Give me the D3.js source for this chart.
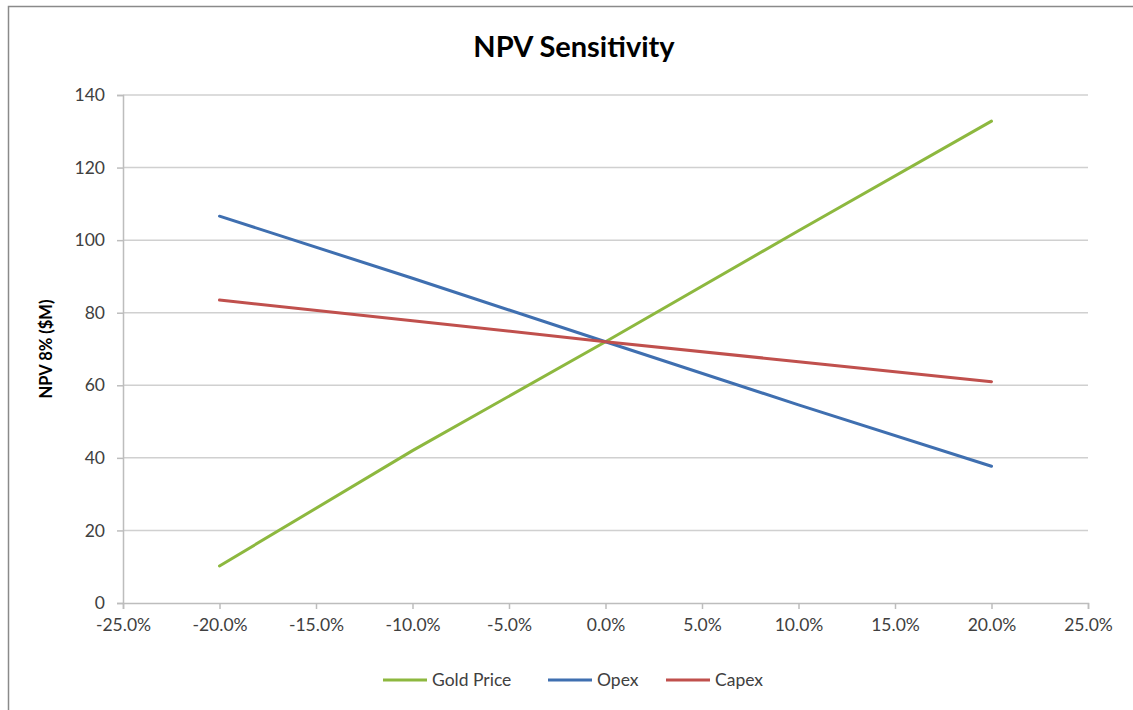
<!DOCTYPE html>
<html><head><meta charset="utf-8">
<script src="https://cdn.jsdelivr.net/npm/d3@7"></script>
<style>
html,body{margin:0;padding:0;background:#fff;}
svg{display:block;font-family:Lato,"Open Sans",sans-serif;}
</style></head>
<body>
<svg id="c" width="1133" height="710"></svg>
<script>
const xValues = [-0.20, -0.10, 0.00, 0.10, 0.20];
const goldPrice = [10.2, 42.0, 72.0, 102.6, 132.8];
const opex = [106.6, 89.5, 72.0, 54.6, 37.7];
const capex = [83.5, 77.8, 72.0, 66.5, 61.0];
const seriesNames = ["Gold Price", "Opex", "Capex"];
const seriesColors = ["#8DB83F", "#3F6FB0", "#C0504D"];
const yTicks = [0, 20, 40, 60, 80, 100, 120, 140];
const xTicks = [-0.25, -0.20, -0.15, -0.10, -0.05, 0, 0.05, 0.10, 0.15, 0.20, 0.25];

const svg = d3.select("#c");
// outer border
svg.append("path").attr("d","M8.5,710 L8.5,6.5 L1133,6.5").attr("fill","none").attr("stroke","#8a8a8a").attr("stroke-width",1.5);

const L=123, R=1088, T=95, B=603;
const x = d3.scaleLinear().domain([-0.25,0.25]).range([L,R]);
const y = d3.scaleLinear().domain([0,140]).range([B,T]);

// gridlines
svg.append("g").selectAll("line").data(yTicks.filter(d=>d>0)).join("line")
  .attr("x1",L).attr("x2",R).attr("y1",d=>y(d)).attr("y2",d=>y(d))
  .attr("stroke","#d0d0d0").attr("stroke-width",1.5);

const pct = d => d3.format(".1%")(d).replace("\u2212","-");

// y axis
const yAxis = svg.append("g").attr("transform",`translate(${L},0)`)
  .call(d3.axisLeft(y).tickValues(yTicks).tickSize(6).tickPadding(12).tickFormat(d3.format("d")));
yAxis.select(".domain").attr("stroke","#bdbdbd").attr("stroke-width",1.5);
yAxis.selectAll(".tick line").attr("stroke","#bdbdbd").attr("stroke-width",1.5);
yAxis.selectAll("text").attr("font-size",17.5).attr("fill","#404040").attr("font-family","Lato,'Open Sans',sans-serif");

// x axis
const xAxis = svg.append("g").attr("transform",`translate(0,${B})`)
  .call(d3.axisBottom(x).tickValues(xTicks).tickSize(6).tickPadding(10).tickFormat(pct));
xAxis.select(".domain").attr("stroke","#bdbdbd").attr("stroke-width",1.5);
xAxis.selectAll(".tick line").attr("stroke","#bdbdbd").attr("stroke-width",1.5);
xAxis.selectAll("text").attr("font-size",17.5).attr("fill","#404040").attr("font-family","Lato,'Open Sans',sans-serif");

// lines
const series = [goldPrice, opex, capex];
const line = d3.line().x((d,i)=>x(xValues[i])).y(d=>y(d));
series.forEach((s,k)=>{
  svg.append("path").datum(s).attr("d",line).attr("fill","none")
    .attr("stroke",seriesColors[k]).attr("stroke-width",3).attr("stroke-linecap","round");
});

// title
svg.append("text").attr("x",574).attr("y",57).attr("text-anchor","middle")
  .attr("font-size",29).attr("font-weight","bold").attr("fill","#000").text("NPV Sensitivity");

// y axis title
svg.append("text").attr("transform","translate(52,349) rotate(-90)").attr("text-anchor","middle")
  .attr("font-size",16.5).attr("font-weight","bold").attr("fill","#000").text("NPV 8% ($M)");

// legend
const legX = [383, 548, 666];
seriesNames.forEach((n,k)=>{
  const g = svg.append("g").attr("transform",`translate(${legX[k]},680)`);
  g.append("line").attr("x1",0).attr("x2",44).attr("y1",0).attr("y2",0)
    .attr("stroke",seriesColors[k]).attr("stroke-width",3);
  g.append("text").attr("x",49).attr("y",6).attr("font-size",17.5).attr("fill","#404040").text(n);
});
</script>
</body></html>
